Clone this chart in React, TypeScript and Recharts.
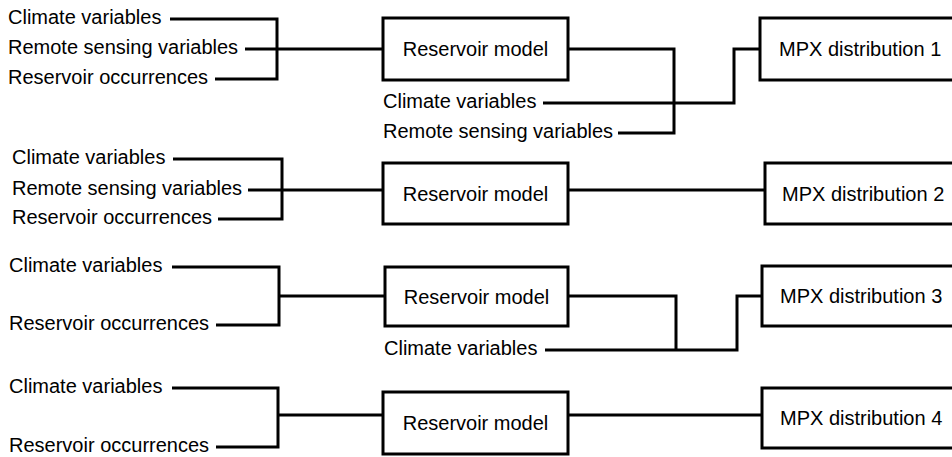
import React from 'react';
import { ComposedChart, XAxis, YAxis, Line, Scatter, ReferenceArea } from 'recharts';

// Diagram nodes in pixel-like data space (x: 0..952, y: 0..457 top-down)
const inputLabels = [
  { x: 8, y: 19, text: 'Climate variables' },
  { x: 8, y: 49, text: 'Remote sensing variables' },
  { x: 8, y: 79, text: 'Reservoir occurrences' },
  { x: 383, y: 103, text: 'Climate variables' },
  { x: 383, y: 133, text: 'Remote sensing variables' },
  { x: 12, y: 159, text: 'Climate variables' },
  { x: 12, y: 190, text: 'Remote sensing variables' },
  { x: 12, y: 219, text: 'Reservoir occurrences' },
  { x: 9, y: 267, text: 'Climate variables' },
  { x: 9, y: 325, text: 'Reservoir occurrences' },
  { x: 384, y: 350, text: 'Climate variables' },
  { x: 9, y: 388, text: 'Climate variables' },
  { x: 9, y: 447, text: 'Reservoir occurrences' },
];

const modelBoxes = [
  { x1: 383, x2: 568, y1: 18, y2: 80, text: 'Reservoir model' },
  { x1: 383, x2: 568, y1: 163, y2: 224, text: 'Reservoir model' },
  { x1: 385, x2: 568, y1: 267, y2: 326, text: 'Reservoir model' },
  { x1: 383, x2: 568, y1: 392, y2: 454, text: 'Reservoir model' },
];

const outputBoxes = [
  { x1: 760, x2: 958, y1: 18, y2: 80, tx: 779, text: 'MPX distribution 1' },
  { x1: 765, x2: 958, y1: 163, y2: 224, tx: 782, text: 'MPX distribution 2' },
  { x1: 762, x2: 958, y1: 266, y2: 326, tx: 780, text: 'MPX distribution 3' },
  { x1: 762, x2: 958, y1: 388, y2: 448, tx: 780, text: 'MPX distribution 4' },
];

const connectors = [
  [[170, 19], [277, 19], [277, 79], [215, 79]],
  [[245, 49], [383, 49]],
  [[568, 49], [674, 49], [674, 133], [618, 133]],
  [[543, 103], [734, 103], [734, 49], [760, 49]],
  [[173, 159], [282, 159], [282, 219], [218, 219]],
  [[248, 190], [383, 190]],
  [[568, 190], [765, 190]],
  [[172, 267], [279, 267], [279, 325], [216, 325]],
  [[279, 296], [385, 296]],
  [[568, 296], [676, 296], [676, 350]],
  [[545, 350], [737, 350], [737, 296], [762, 296]],
  [[172, 388], [278, 388], [278, 447], [216, 447]],
  [[278, 415], [383, 415]],
  [[568, 415], [762, 415]],
];

const FONT = '"Liberation Sans", Arial, sans-serif';

const boxTextPoints = [
  ...modelBoxes.map((b) => ({ x: (b.x1 + b.x2) / 2, y: (b.y1 + b.y2) / 2, text: b.text, anchor: 'middle' })),
  ...outputBoxes.map((b) => ({ x: b.tx, y: (b.y1 + b.y2) / 2, text: b.text, anchor: 'start' })),
];

const inputPoints = inputLabels.map((l) => ({ ...l, anchor: 'start' }));

const renderInputLabel = (props: any) => (
  <text x={props.cx} y={props.cy + 5} fontFamily={FONT} fontSize={20} fill="#000" textAnchor={props.payload.anchor}>
    {props.payload.text}
  </text>
);

const renderBoxLabel = (props: any) => (
  <text x={props.cx} y={props.cy + 7} fontFamily={FONT} fontSize={20} fill="#000" textAnchor={props.payload.anchor}>
    {props.payload.text}
  </text>
);

export default function App() {
  return (
    <div style={{ position: 'absolute', left: 0, top: 0, background: '#fff' }}>
      <ComposedChart width={952} height={457} margin={{ top: 0, right: 0, bottom: 0, left: 0 }}>
        <XAxis type="number" dataKey="x" domain={[0, 952]} hide allowDataOverflow />
        <YAxis type="number" dataKey="y" domain={[0, 457]} reversed hide allowDataOverflow />
        {connectors.map((c, i) => (
          <Line
            key={'c' + i}
            data={c.map(([x, y]) => ({ x, y }))}
            dataKey="y"
            type="linear"
            stroke="#000"
            strokeWidth={3}
            dot={false}
            activeDot={false}
            isAnimationActive={false}
            legendType="none"
          />
        ))}
        {modelBoxes.map((b, i) => (
          <ReferenceArea
            key={'m' + i}
            x1={b.x1}
            x2={b.x2}
            y1={b.y1}
            y2={b.y2}
            ifOverflow="visible"
            fill="#fff"
            fillOpacity={1}
            stroke="#000"
            strokeWidth={3}
          />
        ))}
        {outputBoxes.map((b, i) => (
          <ReferenceArea
            key={'o' + i}
            x1={b.x1}
            x2={b.x2}
            y1={b.y1}
            y2={b.y2}
            ifOverflow="visible"
            fill="#fff"
            fillOpacity={1}
            stroke="#000"
            strokeWidth={3}
          />
        ))}
        <Scatter data={inputPoints} dataKey="y" shape={renderInputLabel} isAnimationActive={false} legendType="none" />
        <Scatter data={boxTextPoints} dataKey="y" shape={renderBoxLabel} isAnimationActive={false} legendType="none" />
      </ComposedChart>
    </div>
  );
}
